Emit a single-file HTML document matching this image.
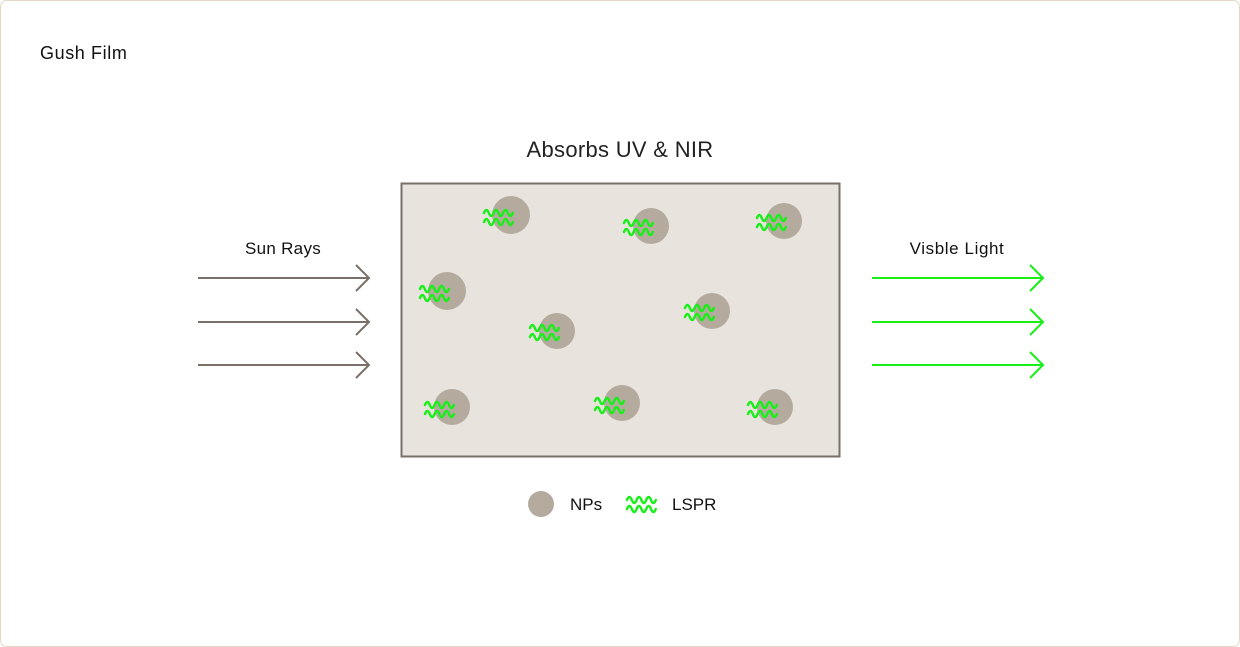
<!DOCTYPE html>
<html><head><meta charset="utf-8"><style>
body{margin:0;background:#fff;}
svg{display:block;font-family:"Liberation Sans",sans-serif;}
</style></head><body>
<svg width="1240" height="647" viewBox="0 0 1240 647" xmlns="http://www.w3.org/2000/svg">
<defs>
<g id="w" fill="none" stroke="#16f016" stroke-width="2.4" stroke-linecap="round">
<path d="M0 0 q2.4 -6 4.8 0 t4.8 0 t4.8 0 t4.8 0 t4.8 0 t4.8 0"/>
<path d="M0 9 q2.4 -6 4.8 0 t4.8 0 t4.8 0 t4.8 0 t4.8 0 t4.8 0"/>
</g>
</defs>
<rect x="0.5" y="0.5" width="1239" height="646" rx="6" fill="#fff" stroke="#e3d8c4"/>
<text x="40" y="59" font-size="18" fill="#111" letter-spacing="0.6">Gush Film</text>
<text x="620" y="157" font-size="22" fill="#222" text-anchor="middle" letter-spacing="0.3">Absorbs UV &amp; NIR</text>
<rect x="401.5" y="183.5" width="438" height="273" fill="#e8e3dd" stroke="#7a7068" stroke-width="2"/>
<g fill="#b4aa9d">
<circle cx="511" cy="215" r="19"/><circle cx="651" cy="226" r="18"/><circle cx="784" cy="221" r="18"/>
<circle cx="447" cy="291" r="19"/><circle cx="557" cy="331" r="18"/><circle cx="712" cy="311" r="18"/>
<circle cx="452" cy="407" r="18"/><circle cx="622" cy="403" r="18"/><circle cx="775" cy="407" r="18"/>
<circle cx="541" cy="504" r="13"/>
</g>
<use href="#w" x="484" y="213"/><use href="#w" x="624" y="223"/><use href="#w" x="757" y="218"/>
<use href="#w" x="420" y="289"/><use href="#w" x="530" y="328"/><use href="#w" x="685" y="308"/>
<use href="#w" x="425" y="405"/><use href="#w" x="595" y="401"/><use href="#w" x="748" y="405"/>
<use href="#w" x="627" y="500"/>
<text x="570" y="510" font-size="17" fill="#111">NPs</text>
<text x="672" y="510" font-size="17" fill="#111">LSPR</text>
<text x="283" y="254" font-size="17" fill="#111" text-anchor="middle" letter-spacing="0.3">Sun Rays</text>
<text x="957" y="254" font-size="17" fill="#111" text-anchor="middle" letter-spacing="0.6">Visble Light</text>
<g fill="none" stroke="#7a7068" stroke-width="2">
<path d="M198 278H369M356 265L369 278L356 291"/>
<path d="M198 322H369M356 309L369 322L356 335"/>
<path d="M198 365H369M356 352L369 365L356 378"/>
</g>
<g fill="none" stroke="#16f016" stroke-width="2">
<path d="M872 278H1043M1030 265L1043 278L1030 291"/>
<path d="M872 322H1043M1030 309L1043 322L1030 335"/>
<path d="M872 365H1043M1030 352L1043 365L1030 378"/>
</g>
</svg>
</body></html>
